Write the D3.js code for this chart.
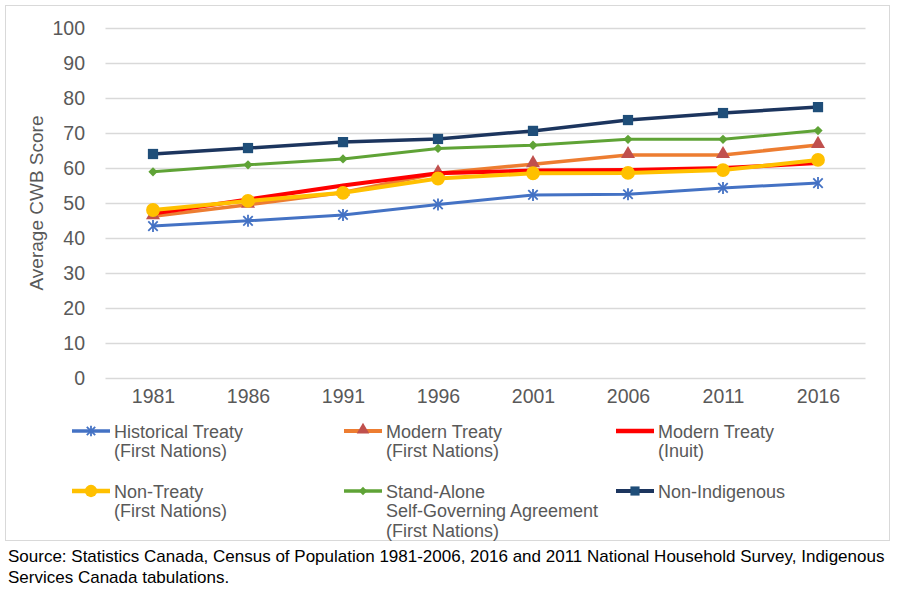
<!DOCTYPE html>
<html>
<head>
<meta charset="utf-8">
<script src="https://cdn.jsdelivr.net/npm/d3@7"></script>
<style>
  body { margin: 0; background: #fff; }
  text { font-family: "Liberation Sans", Arial, sans-serif; }
</style>
</head>
<body>
<svg id="chart" width="900" height="593"></svg>
<script>
// Census years on the category axis
const years = ["1981", "1986", "1991", "1996", "2001", "2006", "2011", "2016"];
const yTicks = [0, 10, 20, 30, 40, 50, 60, 70, 80, 90, 100];

// Average CWB score
const historicalTreaty = [43.4, 44.9, 46.6, 49.6, 52.3, 52.5, 54.3, 55.7];
const modernTreatyFN = [46.2, 49.5, 53.0, 58.5, 61.1, 63.7, 63.7, 66.6];
const modernTreatyInuit = [47.0, 51.0, 55.0, 58.5, 59.3, 59.4, 60.0, 61.4];
const nonTreaty = [48.0, 50.6, 52.9, 57.0, 58.5, 58.6, 59.4, 62.3];
const standAlone = [58.9, 60.9, 62.6, 65.6, 66.5, 68.2, 68.2, 70.7];
const nonIndigenous = [64.0, 65.7, 67.4, 68.3, 70.6, 73.7, 75.7, 77.4];

const seriesNames = [
  ["Historical Treaty", "(First Nations)"],
  ["Modern Treaty", "(First Nations)"],
  ["Modern Treaty", "(Inuit)"],
  ["Non-Treaty", "(First Nations)"],
  ["Stand-Alone", "Self-Governing Agreement", "(First Nations)"],
  ["Non-Indigenous"]
];
const sourceLines = [
  "Source: Statistics Canada, Census of Population 1981-2006, 2016 and 2011 National Household Survey, Indigenous",
  "Services Canada tabulations."
];

const series = [
  { name: seriesNames[0], values: historicalTreaty, line: "#4472C4", fill: "#4472C4", marker: "star", width: 3 },
  { name: seriesNames[1], values: modernTreatyFN, line: "#ED7D31", fill: "#C0504D", marker: "triangle", width: 3.5 },
  { name: seriesNames[2], values: modernTreatyInuit, line: "#FF0000", fill: "#FF0000", marker: null, width: 4 },
  { name: seriesNames[3], values: nonTreaty, line: "#FFC000", fill: "#FFC000", marker: "circle", width: 4 },
  { name: seriesNames[4], values: standAlone, line: "#5FA336", fill: "#5FA336", marker: "diamond", width: 3 },
  { name: seriesNames[5], values: nonIndigenous, line: "#1C355E", fill: "#1F4E79", marker: "square", width: 3.5 }
];

const svg = d3.select("#chart");

// chart frame
svg.append("rect")
  .attr("x", 5.5).attr("y", 5.5)
  .attr("width", 884).attr("height", 535)
  .attr("fill", "#fff").attr("stroke", "#d9d9d9");

const x = d3.scalePoint().domain(years).range([105.5, 865.5]).padding(0.5);
const y = d3.scaleLinear().domain([0, 100]).range([378, 28]);

// gridlines
svg.append("g")
  .attr("transform", "translate(105.5,0)")
  .call(d3.axisLeft(y).tickValues(yTicks).tickSize(-760).tickFormat(""))
  .call(g => g.select(".domain").remove())
  .call(g => g.selectAll("line").attr("stroke", "#d9d9d9").attr("stroke-width", 1.3));

// y tick labels
svg.append("g")
  .attr("transform", "translate(88,0)")
  .call(d3.axisLeft(y).tickValues(yTicks).tickSize(0))
  .call(g => g.select(".domain").remove())
  .call(g => g.selectAll("text").attr("fill", "#595959").style("font-size", "19.5px"));

// x tick labels
svg.append("g")
  .attr("transform", "translate(0,386)")
  .call(d3.axisBottom(x).tickSize(0))
  .call(g => g.select(".domain").remove())
  .call(g => g.selectAll("text").attr("fill", "#595959").style("font-size", "19.5px"));

svg.append("text")
  .attr("transform", "translate(43,203) rotate(-90)")
  .attr("text-anchor", "middle")
  .attr("fill", "#595959")
  .style("font-size", "19px")
  .text("Average CWB Score");

const symbols = {
  circle: d3.symbolCircle,
  triangle: d3.symbolTriangle,
  diamond: d3.symbolDiamond2,
  square: d3.symbolSquare,
  star: d3.symbolTimes
};
const symbolSize = { circle: 150, triangle: 85, diamond: 55, square: 105, star: 60 };

function drawMarker(g, s, px, py, scale) {
  if (!s.marker) return;
  const k = scale || 1;
  const path = d3.symbol().type(symbols[s.marker]).size(symbolSize[s.marker] * k)();
  if (s.marker === "star") {
    g.append("path").attr("d", path).attr("transform", `translate(${px},${py})`)
      .attr("fill", "none").attr("stroke", s.fill).attr("stroke-width", 1.8);
    g.append("line")
      .attr("x1", px).attr("x2", px).attr("y1", py - 6 * Math.sqrt(k)).attr("y2", py + 6 * Math.sqrt(k))
      .attr("stroke", s.fill).attr("stroke-width", 1.8);
  } else {
    g.append("path").attr("d", path)
      .attr("transform", `translate(${px},${py + (s.marker === "triangle" ? -1 : 0)})`)
      .attr("fill", s.fill);
  }
}

const line = d3.line().x((d, i) => x(years[i])).y(d => y(d));

series.forEach(s => {
  const g = svg.append("g");
  g.append("path")
    .attr("d", line(s.values))
    .attr("fill", "none")
    .attr("stroke", s.line)
    .attr("stroke-width", s.width)
    .attr("stroke-linejoin", "round")
    .attr("stroke-linecap", "round");
  s.values.forEach((v, i) => drawMarker(g, s, x(years[i]), y(v)));
});

// legend: 3 columns, 2 rows
const legendCols = [72, 344, 616];
const legendRows = [431, 491];
series.forEach((s, i) => {
  const lx = legendCols[i % 3];
  const ly = legendRows[Math.floor(i / 3)];
  const g = svg.append("g");
  g.append("line")
    .attr("x1", lx).attr("x2", lx + 38)
    .attr("y1", ly).attr("y2", ly)
    .attr("stroke", s.line).attr("stroke-width", s.width + 0.5);
  drawMarker(g, s, lx + 19, ly, 0.8);
  const t = g.append("text")
    .attr("x", lx + 42).attr("y", ly)
    .attr("fill", "#595959")
    .style("font-size", "18px");
  s.name.forEach((n, j) => {
    t.append("tspan").attr("x", lx + 42).attr("y", ly + 6.5 + j * 19.5).text(n);
  });
});

// source note
svg.append("g").selectAll("text")
  .data(sourceLines)
  .join("text")
  .attr("x", 8)
  .attr("y", (d, i) => 562 + i * 21)
  .attr("fill", "#000")
  .style("font-size", "17px")
  .text(d => d);
</script>
</body>
</html>
